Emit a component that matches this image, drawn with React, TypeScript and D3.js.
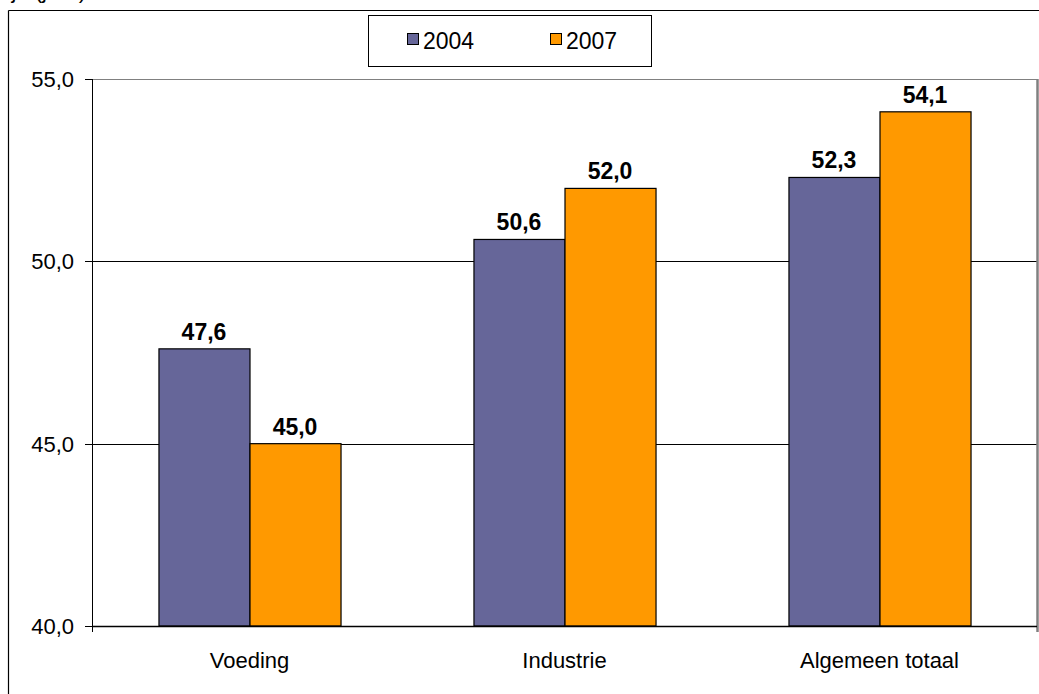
import React from "react";
import * as d3 from "d3";

const categories = ["Voeding", "Industrie", "Algemeen totaal"];
const seriesNames = ["2004", "2007"];
const values2004 = [47.6, 50.6, 52.3];
const values2007 = [45.0, 52.0, 54.1];
const yTicks = [40, 45, 50, 55];
const colors = ["#666699", "#FF9900"];
const topNote = "Gemiddelde leeftijd (jaar)";

const W = 1039;
const H = 694;
const plot = { left: 92, right: 1037, top: 79, bottom: 626 };

export default function App() {
  const x = d3.scaleBand<string>().domain(categories).range([plot.left, plot.right]).paddingInner(0.422).paddingOuter(0.211);
  const inner = d3.scaleBand<string>().domain(seriesNames).range([0, x.bandwidth()]);
  const y = d3.scaleLinear().domain([40, 55]).range([plot.bottom, plot.top]);
  const fmt = (v: number) => v.toFixed(1).replace(".", ",");
  const series = [values2004, values2007];
  const font = "Arial, 'Liberation Sans', sans-serif";

  return (
    <svg width={W} height={H} style={{ position: "absolute", left: 0, top: 0, background: "#fff" }} fontFamily={font}>
      <rect x={0} y={0} width={W} height={H} fill="#fff" />
      <text x={86} y={-2} textAnchor="end" fontSize={22} fill="#000">{topNote}</text>
      {/* outer chart box */}
      <line x1={8.5} y1={10.5} x2={W} y2={10.5} stroke="#000" strokeWidth={1.2} />
      <line x1={8.5} y1={10.5} x2={8.5} y2={H} stroke="#000" strokeWidth={1.2} />
      {/* gridlines */}
      {yTicks.filter((t) => t > 40).map((t) => (
        <line key={t} x1={plot.left} x2={plot.right} y1={Math.round(y(t)) + 0.5} y2={Math.round(y(t)) + 0.5} stroke={t === 55 ? "#808080" : "#000"} strokeWidth={1} />
      ))}
      {/* right plot border */}
      <line x1={plot.right + 0.5} x2={plot.right + 0.5} y1={plot.top} y2={plot.bottom + 6} stroke="#808080" strokeWidth={2.5} />
      {/* bars */}
      {series.map((vals, si) =>
        vals.map((v, ci) => {
          const bx = (x(categories[ci]) ?? 0) + (inner(seriesNames[si]) ?? 0);
          const bw = inner.bandwidth();
          return (
            <g key={`${si}-${ci}`}>
              <rect x={bx + 0.5} y={y(v)} width={bw} height={plot.bottom - y(v)} fill={colors[si]} stroke="#000" strokeWidth={1.2} />
              <text x={bx + bw / 2} y={y(v) - 9} textAnchor="middle" fontSize={23} fontWeight="bold" fill="#000">{fmt(v)}</text>
            </g>
          );
        })
      )}
      {/* axes */}
      <line x1={plot.left + 0.5} x2={plot.left + 0.5} y1={plot.top} y2={plot.bottom + 6} stroke="#000" strokeWidth={1} />
      <line x1={plot.left} x2={plot.right} y1={plot.bottom + 0.5} y2={plot.bottom + 0.5} stroke="#000" strokeWidth={1.5} />
      {yTicks.map((t) => (
        <g key={t}>
          <line x1={plot.left - 7} x2={plot.left} y1={Math.round(y(t)) + 0.5} y2={Math.round(y(t)) + 0.5} stroke="#000" />
          <text x={plot.left - 18} y={y(t) + 8} textAnchor="end" fontSize={22} fill="#000">{fmt(t)}</text>
        </g>
      ))}
      {categories.map((c) => (
        <text key={c} x={(x(c) ?? 0) + x.bandwidth() / 2} y={668} textAnchor="middle" fontSize={22} fill="#000">{c}</text>
      ))}
      {/* legend */}
      <rect x={368.5} y={15.5} width={283} height={51} fill="#fff" stroke="#000" strokeWidth={1} />
      {seriesNames.map((s, i) => (
        <g key={s}>
          <rect x={407.5 + i * 143} y={33.5} width={11} height={11} fill={colors[i]} stroke="#000" strokeWidth={1} />
          <text x={423 + i * 143} y={49} fontSize={23} fill="#000">{s}</text>
        </g>
      ))}
    </svg>
  );
}
